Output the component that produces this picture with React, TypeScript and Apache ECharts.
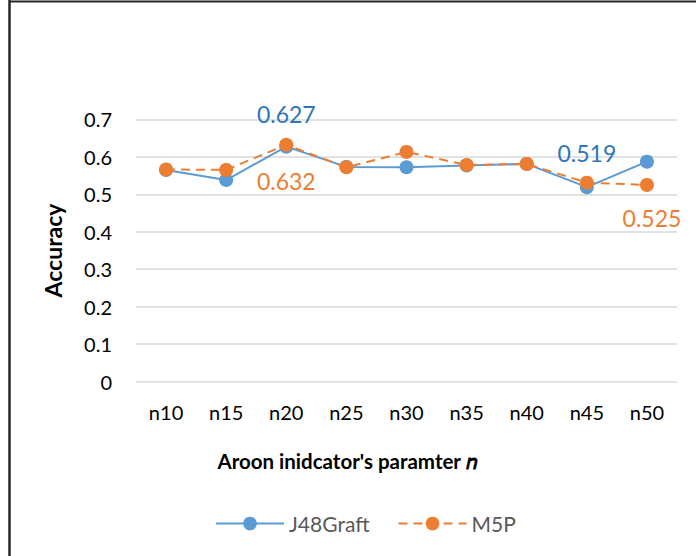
import React, { useEffect, useRef } from "react";
import * as echarts from "echarts";

const categories = ["n10", "n15", "n20", "n25", "n30", "n35", "n40", "n45", "n50"];
const j48Graft = [0.565, 0.538, 0.627, 0.573, 0.572, 0.577, 0.581, 0.519, 0.587];
const m5p = [0.566, 0.565, 0.632, 0.572, 0.613, 0.578, 0.581, 0.531, 0.525];
const yTicks = [0, 0.1, 0.2, 0.3, 0.4, 0.5, 0.6, 0.7];

const FONT = "Lato";
const BLUE = "#5B9BD5";
const BLUE_TXT = "#2E75B6";
const ORANGE = "#ED7D31";

export default function App() {
  const ref = useRef<HTMLDivElement>(null);
  useEffect(() => {
    document.body.style.margin = "0";
    if (!ref.current) return;
    const chart = echarts.init(ref.current, null, { renderer: "svg" });

    const blueLabels: Record<number, number[]> = { 2: [0, -33], 7: [0, -34] };
    const orangeLabels: Record<number, number[]> = { 2: [0, 36], 8: [5, 33] };

    const mk = (vals: number[], labels: Record<number, number[]>, color: string) =>
      vals.map((v, i) =>
        labels[i]
          ? {
              value: v,
              label: {
                show: true,
                position: "inside",
                offset: labels[i],
                formatter: v.toFixed(3),
                color,
                fontSize: 23,
                fontFamily: FONT,
              },
            }
          : v
      );

    chart.setOption({
      animation: false,
      backgroundColor: "#ffffff",
      textStyle: { fontFamily: FONT },
      grid: { left: 136, right: 19, top: 119.3, bottom: 174.3 },
      legend: {
        left: 210,
        top: 508,
        itemWidth: 68,
        itemHeight: 17,
        itemGap: 28,
        textStyle: { fontFamily: FONT, fontSize: 21, color: "#595959" },
        data: ["J48Graft", "M5P"],
      },
      xAxis: {
        type: "category",
        data: categories,
        boundaryGap: true,
        axisLine: { show: false },
        axisTick: { show: false },
        axisLabel: { color: "#000", fontSize: 20, fontFamily: FONT, margin: 20 },
      },
      yAxis: {
        type: "value",
        min: yTicks[0],
        max: yTicks[yTicks.length - 1],
        interval: 0.1,
        name: "Accuracy",
        nameLocation: "middle",
        nameGap: 72,
        nameTextStyle: { color: "#000", fontSize: 23, fontWeight: "bold", fontFamily: FONT },
        axisLine: { show: false },
        axisTick: { show: false },
        axisLabel: {
          color: "#000",
          fontSize: 20,
          fontFamily: FONT,
          margin: 24,
          formatter: (v: number) => String(Math.round(v * 10) / 10),
        },
        splitLine: { lineStyle: { color: "#D9D9D9", width: 1.5 } },
      },
      graphic: [
        {
          type: "line",
          shape: { x1: 9.5, y1: 0, x2: 9.5, y2: 556 },
          style: { stroke: "#262626", lineWidth: 2.5 },
        },
        {
          type: "line",
          shape: { x1: 9, y1: 1.5, x2: 696, y2: 1.5 },
          style: { stroke: "#262626", lineWidth: 2 },
        },
        {
          type: "text",
          x: 347,
          y: 461,
          style: {
            text: "Aroon inidcator's paramter 𝑛",
            fill: "#000",
            font: `bold 20.5px ${FONT}`,
            textAlign: "center",
            textVerticalAlign: "middle",
          },
        },
      ],
      series: [
        {
          name: "J48Graft",
          type: "line",
          data: mk(j48Graft, blueLabels, BLUE_TXT),
          symbol: "circle",
          symbolSize: 14,
          itemStyle: { color: BLUE },
          lineStyle: { color: BLUE, width: 2 },
          z: 2,
        },
        {
          name: "M5P",
          type: "line",
          data: mk(m5p, orangeLabels, ORANGE),
          symbol: "circle",
          symbolSize: 14,
          itemStyle: { color: ORANGE },
          lineStyle: { color: ORANGE, width: 2, type: [9, 6] },
          z: 3,
        },
      ],
    });
    return () => chart.dispose();
  }, []);
  return <div ref={ref} style={{ width: 696, height: 556 }} />;
}
